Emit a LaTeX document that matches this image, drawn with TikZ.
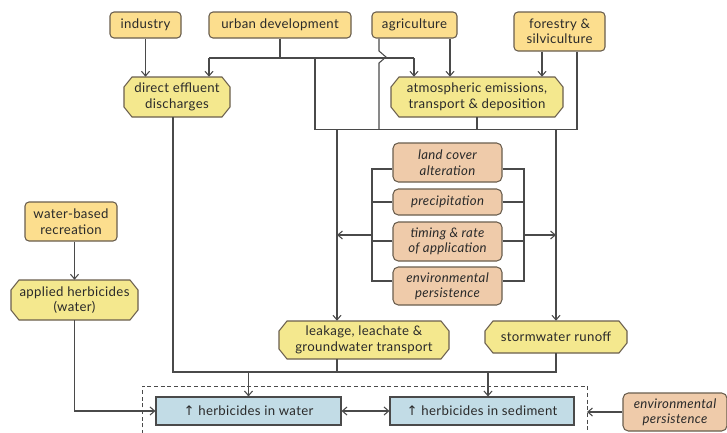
\documentclass[tikz,border=0pt]{standalone}
\usepackage{fontspec}
\setmainfont{Lato}[LetterSpace=2.5]
\newfontfamily\symfont{DejaVu Sans}
\usetikzlibrary{arrows.meta}
\definecolor{srcfill}{HTML}{FCDE8E}
\definecolor{octfill}{HTML}{F4E88E}
\definecolor{brnfill}{HTML}{EFCBAA}
\definecolor{blufill}{HTML}{C2DCE6}
\definecolor{edgec}{HTML}{6A5E4E}
\definecolor{lnc}{HTML}{4A4A4A}
\definecolor{txtc}{HTML}{2A2A2A}
\newcommand\bx[7]{\node[#1, minimum width={#5*0.75pt}, minimum height={#6*0.75pt}] (#2) at (#3,#4) {#7};}
\newcommand\octnode[6]{%
  \filldraw[octshape] ({#2-#4/2+8},{#3-#5/2}) -- ({#2+#4/2-8},{#3-#5/2}) -- ({#2+#4/2},{#3-#5/2+10}) -- ({#2+#4/2},{#3+#5/2-10}) -- ({#2+#4/2-8},{#3+#5/2}) -- ({#2-#4/2+8},{#3+#5/2}) -- ({#2-#4/2},{#3+#5/2-10}) -- ({#2-#4/2},{#3-#5/2+10}) -- cycle;
  \node[txtnode, minimum width={#4*0.75pt}, minimum height={#5*0.75pt}] (#1) at (#2,#3) {#6};}
\begin{document}
\begin{tikzpicture}[x=0.75pt,y=-0.75pt,
  font=\fontsize{9.9}{11.6}\selectfont, text=txtc,
  src/.style={draw=edgec, fill=srcfill, rounded corners=3pt, line width=0.8pt, inner sep=0pt, align=center},
  brn/.style={draw=edgec, fill=brnfill, rounded corners=4pt, line width=0.8pt, inner sep=0pt, align=center, font=\fontsize{9.9}{11.6}\selectfont\itshape},
  blu/.style={draw=lnc, fill=blufill, line width=0.8pt, inner sep=0pt, align=center},
  octshape/.style={draw=edgec, fill=octfill, line width=0.8pt},
  txtnode/.style={inner sep=0pt, align=center},
  ln/.style={draw=lnc, line width=0.8pt},
  arr/.style={ln, -{Straight Barb[length=3.5pt,width=6pt]}},
  darr/.style={ln, {Straight Barb[length=3.5pt,width=6pt]}-{Straight Barb[length=3.5pt,width=6pt]}}]
\useasboundingbox (0,0) rectangle (727,432);
\fill[white] (0,0) rectangle (727,432);
% sources
\bx{src}{industry}{145.5}{25}{71}{26}{industry}
\bx{src}{urban}{280}{25}{142}{26}{urban development}
\bx{src}{agri}{414.5}{25}{85}{26}{agriculture}
\bx{src}{forestry}{559.5}{31.5}{91}{39}{forestry \&\\silviculture}
\bx{src}{recreation}{71}{221.5}{92}{39}{water-based\\recreation}
% factors
\bx{brn}{land}{447.5}{162.5}{109}{39}{land cover\\alteration}
\bx{brn}{precip}{447.5}{202}{109}{26}{precipitation}
\bx{brn}{timing}{447.5}{241.5}{109}{39}{timing \& rate\\of application}
\bx{brn}{envp}{447.5}{286}{109}{38}{environmental\\persistence}
\bx{brn}{envp2}{675}{412}{104}{38}{environmental\\persistence}
% outcomes
\bx{blu}{water}{248.5}{411}{185}{28}{{\symfont↑} herbicides in water}
\bx{blu}{sed}{482}{411}{184}{28}{{\symfont↑} herbicides in sediment}
% pathways
\octnode{effluent}{177}{97}{106}{40}{direct effluent\\discharges}
\octnode{atmos}{477}{97}{172}{40}{atmospheric emissions,\\transport \& deposition}
\octnode{applied}{74.5}{300}{127}{40}{applied herbicides\\(water)}
\octnode{leakage}{364}{340}{170}{38}{leakage, leachate \&\\groundwater transport}
\octnode{storm}{556}{337}{142}{32}{stormwater runoff}
% coordinates
\coordinate (uL) at (209,58);
\coordinate (uM) at (315,58);
\coordinate (uR) at (414,58);
\coordinate (hb) at (0,129.5);
\coordinate (ag) at (379,0);
\coordinate (ax) at (450,0);
\coordinate (fa) at (542,0);
\coordinate (fr) at (577,0);
\coordinate (vL) at (337,0);
\coordinate (bL) at (372,235);
\coordinate (bR) at (524,235);
\coordinate (r1) at (0,169);
\coordinate (r2) at (0,202);
\coordinate (r3) at (0,241);
\coordinate (r4) at (0,281);
\coordinate (lb) at (0,372);
\coordinate (sx) at (488,0);
\coordinate (dR) at (587,408);
% top connectors
\draw[arr] (industry.south) -- (industry.south |- effluent.north);
\draw[ln] (urban.south) -- (urban.south |- uL);
\draw[ln] (uL) -- (uR);
\draw[arr] (uL) -- (uL |- effluent.north);
\draw[arr] (uR) -- (uR |- atmos.north);
\draw[ln] (uM) -- (uM |- hb);
\draw[ln] (agri.south -| ag) -- (379,51) -- (386,57) -- (379,63) -- (ag |- hb);
\draw[arr] (agri.south -| ax) -- (atmos.north -| ax);
\draw[arr] (forestry.south -| fa) -- (atmos.north -| fa);
\draw[ln] (forestry.south -| fr) -- (fr |- hb);
\draw[ln] (atmos.south) -- (atmos.south |- hb);
\draw[ln] (uM |- hb) -- (fr |- hb);
\draw[arr] (vL |- hb) -- (vL |- leakage.north);
\draw[arr] (storm.north |- hb) -- (storm.north);
% bracket
\draw[ln] (land.west |- r1) -- (bL |- r1) -- (bL |- r4) -- (envp.west |- r4);
\draw[ln] (precip.west |- r2) -- (bL |- r2);
\draw[ln] (timing.west |- r3) -- (bL |- r3);
\draw[ln] (land.east |- r1) -- (bR |- r1) -- (bR |- r4) -- (envp.east |- r4);
\draw[ln] (precip.east |- r2) -- (bR |- r2);
\draw[ln] (timing.east |- r3) -- (bR |- r3);
\draw[arr] (bL) -- (bL -| vL);
\draw[arr] (bR) -- (bR -| storm.north);
% lower connectors
\draw[ln] ([xshift=-3pt]effluent.south) -- ([xshift=-3pt]effluent.south |- lb) -- (storm.south |- lb) -- (storm.south);
\draw[ln] (vL |- leakage.south) -- (vL |- lb);
\draw[arr] (water.north |- lb) -- (water.north);
\draw[arr] (sx |- lb) -- (sx |- sed.north);
\draw[arr] (recreation.south -| applied.north) -- (applied.north);
\draw[arr] (applied.south) |- (water.west);
\draw[darr] (water.east) -- (sed.west);
\draw[lnc, line width=0.7pt, dash pattern=on 3pt off 2pt] (142,434) |- (dR |- 0,386) -- (587,434);
\draw[arr] (envp2.west) -- (dR |- envp2.west);
\end{tikzpicture}
\end{document}
